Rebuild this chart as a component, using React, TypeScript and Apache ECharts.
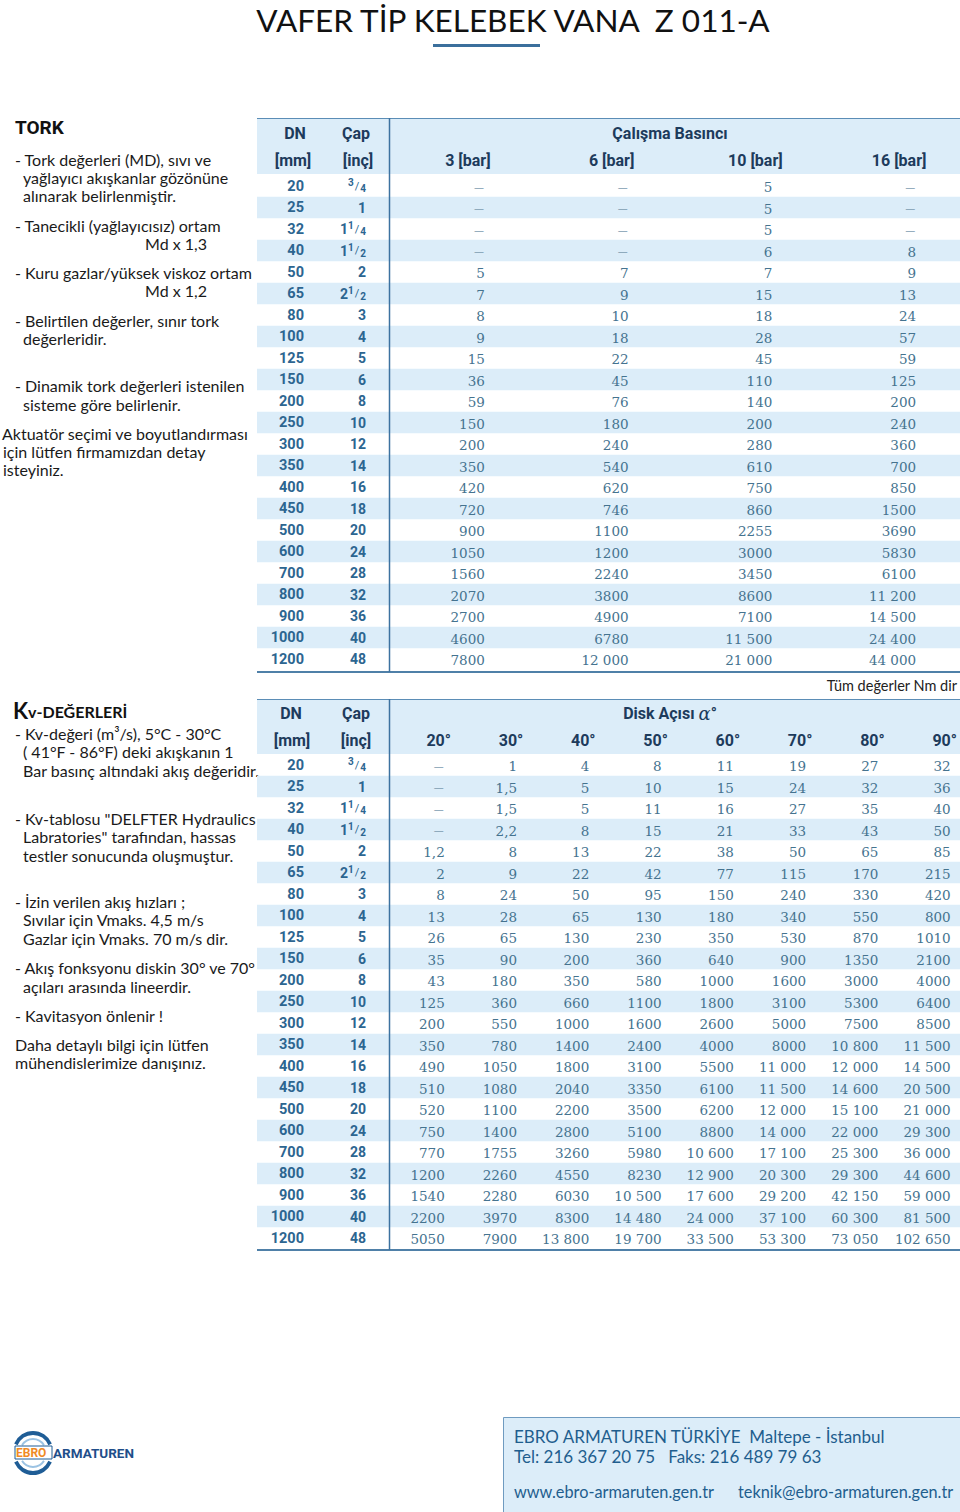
import React, { useEffect, useRef } from 'react';
import * as echarts from 'echarts';

// ---------- DATA ----------
const dnLabels = ['20','25','32','40','50','65','80','100','125','150','200','250','300','350','400','450','500','600','700','800','900','1000','1200'];
const capLabels = ['3/4','1','1 1/4','1 1/2','2','2 1/2','3','4','5','6','8','10','12','14','16','18','20','24','28','32','36','40','48'];

const torkColumns = ['3 [bar]', '6 [bar]', '10 [bar]', '16 [bar]'];
const tork3bar = [null,null,null,null,5,7,8,9,15,36,59,150,200,350,420,720,900,1050,1560,2070,2700,4600,7800];
const tork6bar = [null,null,null,null,7,9,10,18,22,45,76,180,240,540,620,746,1100,1200,2240,3800,4900,6780,12000];
const tork10bar = [5,5,5,6,7,15,18,28,45,110,140,200,280,610,750,860,2255,3000,3450,8600,7100,11500,21000];
const tork16bar = [null,null,null,8,9,13,24,57,59,125,200,240,360,700,850,1500,3690,5830,6100,11200,14500,24400,44000];

const kvColumns = ['20°','30°','40°','50°','60°','70°','80°','90°'];
const kv20 = [null,null,null,null,1.2,2,8,13,26,35,43,125,200,350,490,510,520,750,770,1200,1540,2200,5050];
const kv30 = [1,1.5,1.5,2.2,8,9,24,28,65,90,180,360,550,780,1050,1080,1100,1400,1755,2260,2280,3970,7900];
const kv40 = [4,5,5,8,13,22,50,65,130,200,350,660,1000,1400,1800,2040,2200,2800,3260,4550,6030,8300,13800];
const kv50 = [8,10,11,15,22,42,95,130,230,360,580,1100,1600,2400,3100,3350,3500,5100,5980,8230,10500,14480,19700];
const kv60 = [11,15,16,21,38,77,150,180,350,640,1000,1800,2600,4000,5500,6100,6200,8800,10600,12900,17600,24000,33500];
const kv70 = [19,24,27,33,50,115,240,340,530,900,1600,3100,5000,8000,11000,11500,12000,14000,17100,20300,29200,37100,53300];
const kv80 = [27,32,35,43,65,170,330,550,870,1350,3000,5300,7500,10800,12000,14600,15100,22000,25300,29300,42150,60300,73050];
const kv90 = [32,36,40,50,85,215,420,800,1010,2100,4000,6400,8500,11500,14500,20500,21000,29300,36000,44600,59000,81500,102650];

const torkSeries = [tork3bar, tork6bar, tork10bar, tork16bar];
const kvSeries = [kv20, kv30, kv40, kv50, kv60, kv70, kv80, kv90];

const torkNotes: any[] = [
  ['- Tork değerleri (MD), sıvı ve', 15, 159],
  ['yağlayıcı akışkanlar gözönüne', 23, 177],
  ['alınarak belirlenmiştir.', 23, 195],
  ['- Tanecikli (yağlayıcısız) ortam', 15, 225],
  ['Md x 1,3', 207, 243, 'right'],
  ['- Kuru gazlar/yüksek viskoz ortam', 15, 272],
  ['Md x 1,2', 207, 290, 'right'],
  ['- Belirtilen değerler, sınır tork', 15, 320],
  ['değerleridir.', 23, 338],
  ['- Dinamik tork değerleri istenilen', 15, 385],
  ['sisteme göre belirlenir.', 23, 404],
  ['Aktuatör seçimi ve boyutlandırması', 2, 433],
  ['için lütfen firmamızdan detay', 3, 451],
  ['isteyiniz.', 3, 469],
];
const kvNotes: any[] = [
  ['- Kv-değeri (m³/s), 5°C - 30°C', 15, 733],
  ['( 41°F - 86°F) deki akışkanın 1', 23, 751],
  ['Bar basınç altındaki akış değeridir.', 23, 770],
  ['- Kv-tablosu "DELFTER Hydraulics', 15, 818],
  ['Labratories" tarafından, hassas', 23, 836],
  ['testler sonucunda oluşmuştur.', 23, 855],
  ['- İzin verilen akış hızları ;', 15, 901],
  ['Sıvılar için Vmaks. 4,5 m/s', 23, 919],
  ['Gazlar için Vmaks. 70 m/s dir.', 23, 938],
  ['- Akış fonksyonu diskin 30° ve 70°', 15, 967],
  ['açıları arasında lineerdir.', 23, 986],
  ['- Kavitasyon önlenir !', 15, 1015],
  ['Daha detaylı bilgi için lütfen', 15, 1044],
  ['mühendislerimize danışınız.', 15, 1062],
];

// ---------- STYLE / LAYOUT ----------
const ROW_H = 21.5;
const N_ROWS = dnLabels.length;
const T1_TOP = 175.25;
const T2_TOP = 754.25;
const STRIPE = '#dcedf9';
const HEADER_C = '#1d3b5c';
const KEY_C = '#2c6590';
const VAL_C = '#45738f';
const LINE_C = '#4f80a8';
const NOTE_FONT = '16px Lato';
const VAL_FONT = '13.5px "DejaVu Serif"';
const DASH_FONT = '10px "DejaVu Sans"';
const HEAD_FONT = 'bold 16px Roboto';

function fmt(v: number | null): string {
  if (v == null) return '—';
  if (!Number.isInteger(v)) return String(v).replace('.', ',');
  const s = String(v);
  if (v >= 10000) return s.slice(0, s.length - 3) + ' ' + s.slice(-3);
  return s;
}

function capRich(s: string): string {
  const m = s.match(/^(\d+)?\s?(\d)\/(\d)$/);
  if (!m) return '{n|' + s + '}';
  return (m[1] ? '{n|' + m[1] + '}' : '') + '{sup|' + m[2] + '}{sl|/}{sub|' + m[3] + '}';
}

const capRichStyles = {
  n: { fontFamily: 'Roboto', fontWeight: 'bold', fontSize: 14, color: KEY_C },
  sup: { fontFamily: 'Roboto', fontWeight: 'bold', fontSize: 10, color: KEY_C, padding: [0, 0, 7, 0] },
  sl: { fontFamily: 'Roboto', fontSize: 11, color: KEY_C, padding: [0, 1, 0, 1] },
  sub: { fontFamily: 'Roboto', fontWeight: 'bold', fontSize: 10, color: KEY_C, padding: [5, 0, 0, 0] },
};

function noteTexts(list: any[]) {
  return list.map((l) => ({
    type: 'text', x: l[1], y: l[2], silent: true,
    style: { text: l[0], font: NOTE_FONT, fill: '#1a1a1a', align: l[3] || 'left', verticalAlign: 'middle' },
  }));
}

function txt(text: string, x: number, y: number, font: string, fill: string, align = 'center') {
  return { type: 'text', x, y, silent: true, style: { text, font, fill, align, verticalAlign: 'middle' } };
}

function buildCells(cols: (number | null)[][]) {
  const data: number[][] = [];
  const labels: string[] = [];
  cols.forEach((col, c) => col.forEach((v, r) => { data.push([c, r]); labels.push(fmt(v)); }));
  return { data, labels };
}

function valueSeries(xIdx: number, yIdx: number, cols: (number | null)[][], rightOff: number) {
  const { data, labels } = buildCells(cols);
  return {
    type: 'custom', xAxisIndex: xIdx, yAxisIndex: yIdx, silent: true, data,
    renderItem: (params: any, api: any) => {
      const p = api.coord([api.value(0), api.value(1)]);
      const t = labels[params.dataIndex];
      const dash = t === '—';
      return {
        type: 'text', x: p[0] + rightOff - (dash ? 1 : 0), y: p[1] + 1,
        style: { text: t, font: dash ? DASH_FONT : VAL_FONT, fill: dash ? '#7d9bb0' : VAL_C, align: 'right', verticalAlign: 'middle' },
      };
    },
  };
}

function tableGraphics(headTop: number, headH: number, bottom: number) {
  return [
    { type: 'rect', silent: true, z: -10, shape: { x: 257, y: headTop, width: 703, height: headH }, style: { fill: STRIPE } },
    { type: 'line', silent: true, z: 100, shape: { x1: 257, y1: headTop + 0.5, x2: 960, y2: headTop + 0.5 }, style: { stroke: '#5b8db6', lineWidth: 1 } },
    { type: 'line', silent: true, z: 100, shape: { x1: 257, y1: bottom, x2: 960, y2: bottom }, style: { stroke: LINE_C, lineWidth: 2 } },
    { type: 'line', silent: true, z: 100, shape: { x1: 389.5, y1: headTop, x2: 389.5, y2: bottom }, style: { stroke: '#3c72a0', lineWidth: 1.5 } },
  ];
}

function buildOption() {
  const H = ROW_H * N_ROWS;
  const hiddenX = (g: number) => ({ gridIndex: g, type: 'value', show: false });
  const stripeY = (g: number) => ({
    gridIndex: g, type: 'category', data: dnLabels, inverse: true,
    axisLine: { show: false }, axisTick: { show: false }, axisLabel: { show: false },
    splitArea: { show: true, interval: 0, areaStyle: { color: ['rgba(255,255,255,0)', STRIPE] } },
  });
  const capY = (g: number, margin: number) => ({
    gridIndex: g, type: 'category', data: capLabels, inverse: true, position: 'left', offset: 0,
    axisLine: { show: false }, axisTick: { show: false }, splitLine: { show: false },
    axisLabel: { interval: 0, margin, formatter: (v: string) => capRich(v), rich: capRichStyles },
  });
  const dnY = (g: number, offset: number) => ({
    gridIndex: g, type: 'category', data: dnLabels, inverse: true, position: 'left', offset,
    axisLine: { show: false }, axisTick: { show: false }, splitLine: { show: false },
    axisLabel: { interval: 0, margin: 0, fontFamily: 'Roboto', fontWeight: 'bold', fontSize: 14.5, color: KEY_C },
  });
  const headX = (g: number, cats: string[], margin: number, pad: number) => ({
    gridIndex: g, type: 'category', data: cats, position: 'top',
    axisLine: { show: false }, axisTick: { show: false }, splitLine: { show: false },
    axisLabel: { interval: 0, margin, padding: [0, 0, 0, pad], fontFamily: 'Roboto', fontWeight: 'bold', fontSize: 16, color: HEADER_C },
  });

  const graphic: any[] = [
    txt('VAFER TİP KELEBEK VANA  Z 011-A', 513, 20, '31.5px Lato', '#111'),
    { type: 'rect', silent: true, shape: { x: 433, y: 44, width: 107, height: 3 }, style: { fill: '#3b6f9c' } },
    ...tableGraphics(118, 56, 672),
    ...tableGraphics(699, 55, 1250),
    { type: 'text', x: 15, y: 127, silent: true, style: { text: 'TORK', font: 'bold 19px Roboto', fill: '#111', verticalAlign: 'middle' } },
    ...noteTexts(torkNotes),
    {
      type: 'text', x: 13, y: 710, silent: true,
      style: {
        text: '{k|K}{r|v-DEĞERLERİ}', verticalAlign: 'middle',
        rich: { k: { font: 'bold 22px Lato', fill: '#111' }, r: { font: 'bold 16px Lato', fill: '#111', padding: [3, 0, 0, 0] } },
      },
    },
    ...noteTexts(kvNotes),
    txt('DN', 295, 133, HEAD_FONT, HEADER_C),
    txt('[mm]', 293, 160, HEAD_FONT, HEADER_C),
    txt('Çap', 356, 133, HEAD_FONT, HEADER_C),
    txt('[inç]', 358, 160, HEAD_FONT, HEADER_C),
    txt('Çalışma Basıncı', 670, 133, HEAD_FONT, HEADER_C),
    txt('Tüm değerler Nm dir', 957, 685, '14.5px Lato', '#222', 'right'),
    txt('DN', 291, 713, HEAD_FONT, HEADER_C),
    txt('[mm]', 292, 740, HEAD_FONT, HEADER_C),
    txt('Çap', 356, 713, HEAD_FONT, HEADER_C),
    txt('[inç]', 356, 740, HEAD_FONT, HEADER_C),
    {
      type: 'text', x: 670, y: 713, silent: true,
      style: {
        text: '{a|Disk Açısı }{g|α}{a|°}', align: 'center', verticalAlign: 'middle',
        rich: { a: { font: HEAD_FONT, fill: HEADER_C }, g: { font: 'italic 18px "DejaVu Serif"', fill: HEADER_C } },
      },
    },
    // footer box
    { type: 'rect', silent: true, shape: { x: 503.5, y: 1417.5, width: 460, height: 100 }, style: { fill: STRIPE, stroke: '#6f9bc0', lineWidth: 1 } },
    { type: 'text', x: 514, y: 1436, silent: true, style: { text: 'EBRO ARMATUREN TÜRKİYE  Maltepe - İstanbul', font: '17px Lato', fill: '#1f5e8e', verticalAlign: 'middle' } },
    { type: 'text', x: 514, y: 1456, silent: true, style: { text: 'Tel: 216 367 20 75   Faks: 216 489 79 63', font: '17px Lato', fill: '#1f5e8e', verticalAlign: 'middle' } },
    { type: 'text', x: 514, y: 1491, silent: true, style: { text: 'www.ebro-armaruten.gen.tr', font: '16.3px Lato', fill: '#1f5e8e', verticalAlign: 'middle' } },
    { type: 'text', x: 738, y: 1491, silent: true, style: { text: 'teknik@ebro-armaturen.gen.tr', font: '16.3px Lato', fill: '#1f5e8e', verticalAlign: 'middle' } },
    // logo
    {
      type: 'group', x: 33, y: 1453, scaleX: 0.95, silent: true,
      children: [
        { type: 'arc', shape: { cx: 0, cy: 0, r: 20, startAngle: Math.PI + 0.45, endAngle: 2 * Math.PI - 0.45 }, style: { stroke: '#1f5d96', lineWidth: 4, fill: 'none' } },
        { type: 'arc', shape: { cx: 0, cy: 0, r: 20, startAngle: 0.45, endAngle: Math.PI - 0.45 }, style: { stroke: '#1f5d96', lineWidth: 4, fill: 'none' } },
        { type: 'arc', shape: { cx: 0, cy: 0, r: 14, startAngle: Math.PI + 0.6, endAngle: 2 * Math.PI - 0.6 }, style: { stroke: '#9cc3e3', lineWidth: 2, fill: 'none' } },
        { type: 'arc', shape: { cx: 0, cy: 0, r: 14, startAngle: 0.6, endAngle: Math.PI - 0.6 }, style: { stroke: '#9cc3e3', lineWidth: 2, fill: 'none' } },
      ],
    },
    { type: 'rect', silent: true, shape: { x: 15, y: 1446, width: 37, height: 13 }, style: { fill: 'none', stroke: '#1f5d96', lineWidth: 1 } },
    { type: 'text', x: 16, y: 1453, silent: true, style: { text: 'EBRO', font: 'bold 12px Roboto', fill: '#f08a24', verticalAlign: 'middle' } },
    { type: 'text', x: 53, y: 1453, silent: true, style: { text: 'ARMATUREN', font: 'bold 13.5px Roboto', fill: '#1f4e8a', verticalAlign: 'middle' } },
  ];

  return {
    animation: false,
    backgroundColor: '#ffffff',
    grid: [
      { left: 257, right: 0, top: T1_TOP, height: H },
      { left: 385, right: 0, top: T1_TOP, height: H },
      { left: 257, right: 0, top: T2_TOP, height: H },
      { left: 381.6, right: 0, top: T2_TOP, height: H },
    ],
    xAxis: [
      hiddenX(0),
      headX(1, torkColumns, 7, 22),
      hiddenX(2),
      headX(3, kvColumns, 6, 42),
    ],
    yAxis: [
      stripeY(0),
      capY(1, 19),
      dnY(1, 81),
      stripeY(2),
      capY(3, 15.6),
      dnY(3, 77.6),
    ],
    series: [
      valueSeries(1, 1, torkSeries, 28),
      valueSeries(3, 4, kvSeries, 27),
    ],
    graphic,
  };
}

export default function App() {
  const ref = useRef<HTMLDivElement>(null);
  useEffect(() => {
    if (!ref.current) return;
    const chart = echarts.init(ref.current, undefined, { renderer: 'svg' });
    chart.setOption(buildOption() as any);
    return () => chart.dispose();
  }, []);
  return <div ref={ref} style={{ position: 'absolute', left: 0, top: 0, width: 960, height: 1512, background: '#fff' }} />;
}
